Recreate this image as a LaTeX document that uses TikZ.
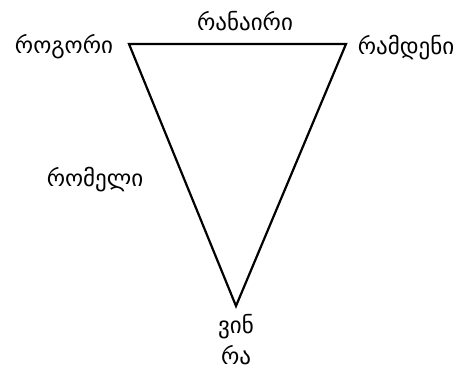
\documentclass[tikz,border=0pt]{standalone}
\usepackage{fontspec}
\setmainfont{DejaVu Sans}
\usepackage{tikz}
\usetikzlibrary{positioning}

\begin{document}
\begin{tikzpicture}[x=1pt, y=-1pt, font=\fontsize{23}{26}\selectfont,
 word/.style={inner sep=0pt, anchor=center},
 edge/.style={draw=black, line width=2.2pt, line join=miter}]
\useasboundingbox (0,0) rectangle (467,372);
\coordinate (tl) at (129,44);
\coordinate (tr) at (346,44);
\coordinate (bt) at (236,306);
\draw[edge] (tl) -- (tr) -- (bt) -- cycle;
\node[word] (top) at (245,21) {რანაირი};
\node[word] (left) at (64,47) {როგორი};
\node[word] (right) at (406,48) {რამდენი};
\node[word] (side) at (95,180) {რომელი};
\node[word] (who) at (236,327) {ვინ};
\node[word] (what) at (236,355) {რა};
\end{tikzpicture}
\end{document}
